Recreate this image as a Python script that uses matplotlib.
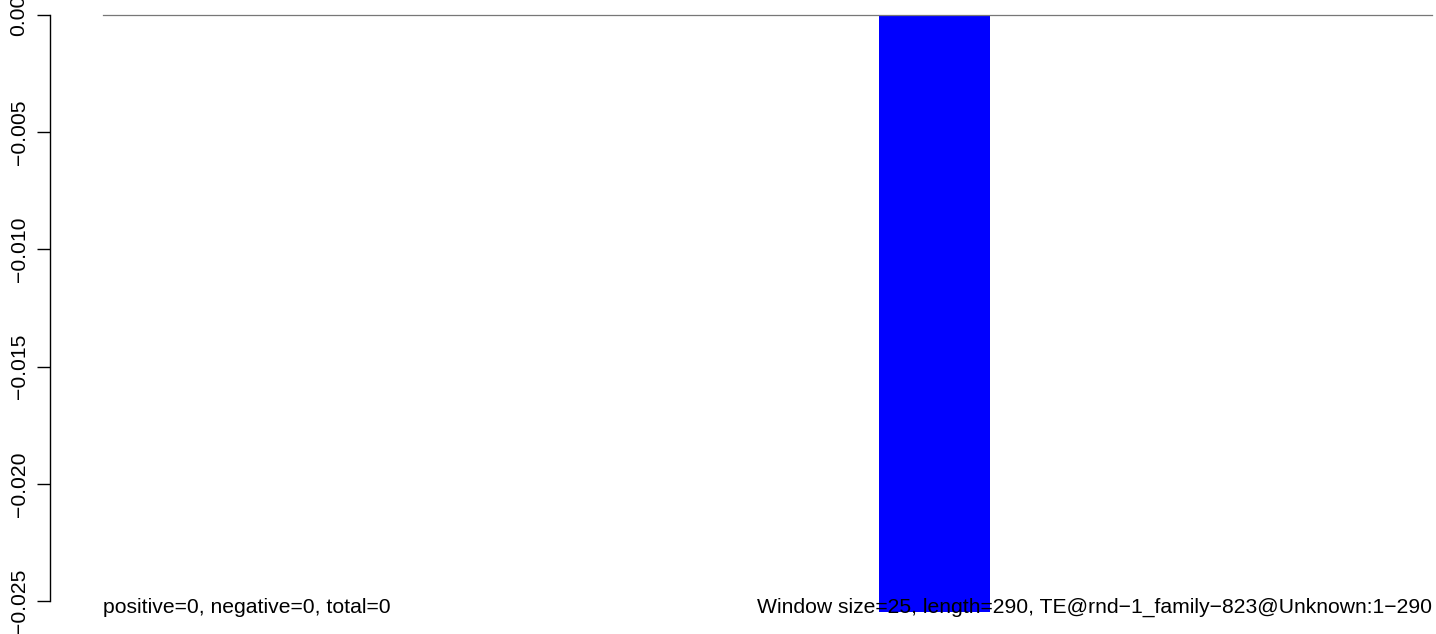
import matplotlib
matplotlib.use("Agg")
import matplotlib.pyplot as plt

# data
seq_length = 290
window_size = 25
bar_start = 169.3
bar_end = 193.5
bar_value = -0.02547
yticks = [0.0, -0.005, -0.010, -0.015, -0.020, -0.025]
ytick_labels = ["0.00", "\u22120.005", "\u22120.010", "\u22120.015", "\u22120.020", "\u22120.025"]
left_text = "positive=0, negative=0, total=0"
right_text = "Window size=25, length=290, TE@rnd\u22121_family\u2212823@Unknown:1\u2212290"
text_y = -0.02551

plt.rcParams['font.family'] = ['Liberation Sans', 'DejaVu Sans']
fs = 15.2

fig = plt.figure(figsize=(14.36, 6.34), dpi=100)
ax = fig.add_axes([50 / 1436, 0, 1 - 50 / 1436, 1])

ax.bar(bar_start, bar_value, width=bar_end - bar_start, align='edge',
       color='blue', linewidth=0, zorder=1)
ax.plot([0, seq_length], [0, 0], color='#777777', linewidth=0.9, zorder=2)

ax.text(0, text_y, left_text, fontsize=fs, ha='left', va='baseline', zorder=3)
ax.text(seq_length, text_y, right_text, fontsize=fs, ha='right', va='baseline', zorder=3)

ax.set_xlim(-11.565, 290.86)
ax.set_ylim(-0.02641, 0.00064)

ax.set_yticks(yticks)
ax.set_yticklabels(ytick_labels, rotation=90, va='center', ha='right', fontsize=fs)
ax.tick_params(axis='y', length=9.4, width=1, pad=6, color='black')
ax.set_xticks([])

for side in ['top', 'right', 'bottom']:
    ax.spines[side].set_visible(False)
ax.spines['left'].set_bounds(-0.025, 0)
ax.spines['left'].set_linewidth(1)

fig.savefig("out.png", dpi=100)
